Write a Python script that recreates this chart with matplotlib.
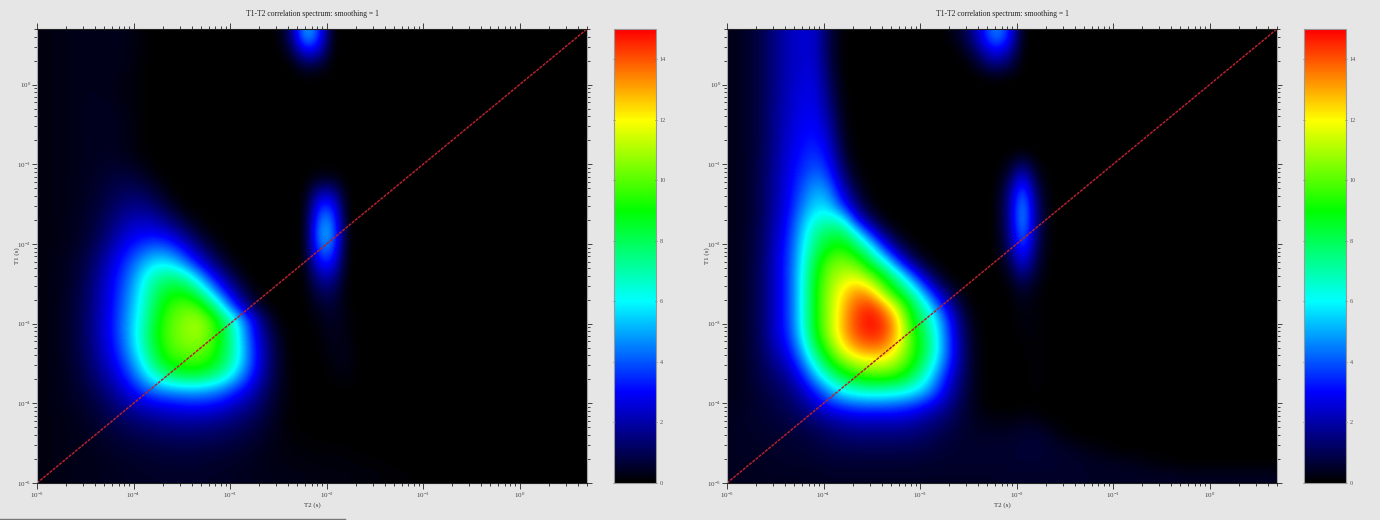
import numpy as np
import matplotlib
matplotlib.use("Agg")
import matplotlib.pyplot as plt
from matplotlib.colors import LinearSegmentedColormap, Normalize
from matplotlib.cm import ScalarMappable
from matplotlib.lines import Line2D
from matplotlib.ticker import LogLocator, LogFormatterMathtext, NullFormatter

plt.rcParams['font.family'] = ['Liberation Serif', 'DejaVu Serif']
plt.rcParams['mathtext.fontset'] = 'stix'

TITLE = "T1-T2 correlation spectrum: smoothing = 1"
X_LABEL = "T2 (s)"
Y_LABEL = "T1 (s)"
T_MIN = 1e-5
T_MAX = 5.0
V_MAX = 15
CBAR_TICKS = [0, 2, 4, 6, 8, 10, 12, 14]
CMAP_COLORS = ["#000000", "#0000ff", "#00ffff", "#00ff00", "#ffff00", "#ff0000"]
N_COLS = 40

# Spectrum amplitudes, top row first; rows are cut after their last non-zero cell.
LEFT_ROWS = [
 [.2,.25,.3,.35,.35,.35,.3,.15,0,0,0,0,0,0,0,0,0,0,1.3,5.4,3.8],
 [.2,.25,.3,.35,.35,.35,.3,.15,0,0,0,0,0,0,0,0,0,0,.6,3.2,2.5],
 [.2,.25,.3,.35,.35,.35,.3,.1,0,0,0,0,0,0,0,0,0,0,0,.9,.7],
 [.2,.25,.3,.35,.35,.3,.2,.1],
 [.2,.25,.3,.35,.35,.3,.2,.1],
 [.2,.25,.3,.35,.4,.35,.25,.1],
 [.2,.25,.3,.35,.4,.4,.3,.1],
 [.2,.25,.3,.35,.4,.4,.3,.1],
 [.2,.25,.3,.35,.4,.4,.3,.1],
 [.2,.25,.3,.35,.45,.5,.45,.25,.05],
 [.2,.25,.3,.4,.5,.7,.8,.6,.25,0,0,0,0,0,0,0,0,0,0,0,.3,.3],
 [.2,.25,.3,.4,.6,.9,1.1,1.1,.7,.2,0,0,0,0,0,0,0,0,0,0,2.0,2.0],
 [.2,.25,.3,.45,.7,1.1,1.5,1.6,1.3,.7,.1,0,0,0,0,0,0,0,0,0,3.6,3.6],
 [.2,.25,.35,.5,.85,1.4,2.0,2.3,2.1,1.5,.8,.2,0,0,0,0,0,0,0,0,4.5,4.6],
 [.2,.25,.35,.55,1.0,1.7,2.5,2.9,3.0,2.7,1.8,.9,.2,0,0,0,0,0,0,0,5.0,5.0],
 [.2,.25,.4,.7,1.3,2.2,3.1,3.8,4.4,4.2,3.3,2.0,.9,.2,0,0,0,0,0,0,4.3,4.3],
 [.2,.3,.45,.85,1.6,2.6,3.6,4.8,5.7,5.8,4.9,3.4,2.0,.8,.1,0,0,0,0,0,3.2,3.3],
 [.2,.3,.5,.95,1.8,2.9,4.0,5.5,7.0,7.6,7.3,5.8,3.7,2.0,.7,0,0,0,0,0,1.9,2.0],
 [.2,.3,.55,1.05,2.0,3.0,4.3,5.9,7.6,8.6,8.9,8.0,5.9,3.5,1.8,.4,0,0,0,0,1.0,1.2],
 [.2,.3,.6,1.1,2.0,3.1,4.5,6.1,8.0,9.4,10,9.9,8.4,5.9,3.1,1.2,.2,0,0,0,.5,.7,.1],
 [.2,.3,.6,1.15,2.1,3.2,4.7,6.3,8.3,9.8,10.4,10.9,10.2,8.2,6.1,3.5,1.3,.1,0,0,.2,.5,.2],
 [.2,.3,.6,1.15,2.1,3.2,4.7,6.5,8.6,9.9,10.5,10.9,10.3,8.7,6.4,3.8,1.7,.4,0,0,.1,.4,.2],
 [.2,.3,.6,1.1,2.0,3.0,4.5,6.3,8.3,9.7,10.2,10.4,9.9,8.5,6.6,4.1,2.0,.6,0,0,.05,.3,.3],
 [.2,.3,.55,1.0,1.8,2.7,4.0,5.7,7.7,9.1,9.5,9.7,9.3,8.1,6.4,4.1,2.0,.6,0,0,0,.2,.3],
 [.2,.3,.5,.85,1.5,2.3,3.3,4.8,6.3,7.5,8.1,8.2,7.7,6.8,5.2,3.5,1.8,.6,.05,0,0,.1,.2],
 [.2,.3,.45,.7,1.15,1.8,2.6,3.5,4.3,4.7,4.9,5.0,4.8,4.3,3.4,2.5,1.3,.5,.05,0,0,0,.05],
 [.2,.3,.4,.55,.85,1.3,1.8,2.3,2.7,2.9,3.1,3.2,3.1,2.8,2.2,1.7,1.0,.4,.05],
 [.2,.25,.3,.45,.65,.95,1.2,1.5,1.7,1.9,2.0,2.0,1.9,1.7,1.4,1.1,.7,.3,.05],
 [.2,.25,.3,.35,.5,.65,.85,1.0,1.1,1.2,1.3,1.3,1.2,1.1,.95,.75,.5,.25,.1,.05],
 [.2,.25,.3,.35,.4,.5,.6,.7,.75,.85,.85,.85,.8,.75,.65,.5,.35,.25,.15,.1,.1,.1,.05],
 [.2,.25,.3,.3,.35,.4,.45,.5,.55,.6,.6,.6,.55,.5,.45,.4,.3,.25,.2,.2,.15,.15,.15,.1,.1,.05],
 [.2,.25,.3,.3,.35,.4,.4,.45,.45,.5,.5,.5,.45,.45,.4,.35,.3,.3,.25,.25,.2,.2,.2,.15,.15,.1,.1,.05],
]

RIGHT_ROWS = [
 [.3,.5,.9,1.6,2.2,2.5,2.4,.7,0,0,0,0,0,0,0,0,.3,1.0,2.8,4.8,3.5],
 [.3,.5,.9,1.6,2.2,2.5,2.4,.7,0,0,0,0,0,0,0,0,0,.5,1.8,3.2,2.2],
 [.3,.5,.9,1.6,2.2,2.5,2.5,.8,0,0,0,0,0,0,0,0,0,0,.7,1.6,1.0],
 [.3,.5,.9,1.6,2.2,2.6,2.6,1.0,0,0,0,0,0,0,0,0,0,0,0,.1],
 [.3,.5,.9,1.6,2.3,2.7,2.7,1.2,.05],
 [.3,.5,.9,1.7,2.3,2.8,2.8,1.5,.1],
 [.3,.5,.9,1.7,2.4,2.9,3.0,1.8,.2],
 [.3,.5,.9,1.7,2.5,3.0,3.2,2.2,.3],
 [.3,.5,.9,1.8,2.6,3.2,3.5,2.6,.5],
 [.3,.5,1,1.8,2.7,3.4,3.9,3.1,.9,.05,0,0,0,0,0,0,0,0,0,0,.2,1.3,.1],
 [.3,.5,1,1.9,2.8,3.7,4.5,3.7,1.5,.2,0,0,0,0,0,0,0,0,0,0,.7,3.2,.5],
 [.3,.5,1,1.9,2.9,4.1,5.2,4.6,2.4,.7,0,0,0,0,0,0,0,0,0,0,1.3,4.7,1.0],
 [.3,.5,1,2,3.0,4.5,5.7,5.4,3.5,1.4,.2,0,0,0,0,0,0,0,0,0,1.5,5.4,1.3],
 [.3,.5,1,2.1,3.2,5.1,6.5,6.9,6.3,3.0,1.2,.1,0,0,0,0,0,0,0,0,1.5,5.5,1.4],
 [.3,.55,1.1,2.2,3.4,5.5,7.4,8.2,8.2,6.3,3.6,1.4,.2,0,0,0,0,0,0,0,1.3,5.0,1.2],
 [.3,.55,1.1,2.3,3.6,5.8,7.9,9.1,9.4,8.2,6.4,3.6,1.5,.3,0,0,0,0,0,0,1.0,4.1,1.0],
 [.3,.55,1.2,2.4,3.7,6.0,8.6,10.2,10.5,10.0,8.2,6.6,3.8,1.6,.4,0,0,0,0,0,.6,2.9,.7],
 [.3,.55,1.2,2.4,3.7,6.2,9.0,10.6,11.4,11.6,10.4,8.8,7.0,4.4,2.0,.5,0,0,0,0,.2,1.5,.4],
 [.3,.55,1.2,2.4,3.7,6.2,9.2,10.9,12.3,13.3,12.6,10.3,8.5,6.9,4.3,2.0,.5,0,0,0,0,.6,.15],
 [.3,.55,1.2,2.4,3.7,6.2,9.2,11,12.8,14,14.5,13,10.7,8.4,6.4,3.8,1.5,.2,0,0,0,.3,.1],
 [.3,.55,1.2,2.4,3.7,6.2,9.2,11,13,14.4,14.9,14.3,12.2,8.9,7.3,5.1,2.5,.5,0,0,0,.2,.15],
 [.3,.55,1.2,2.4,3.5,6.0,9,11,12.9,14.2,14.7,14.2,12.4,9.6,7.8,5.4,2.8,.7,.05,0,0,.1,.15],
 [.3,.55,1.1,2.1,3.1,5.3,8.2,10.1,12.1,13.2,13.6,13.4,11.7,9.6,8.1,5.5,3.0,.8,.05,0,0,.05,.15],
 [.3,.5,1,1.7,2.5,4.3,6.8,9,10.3,11.3,11.6,11.5,10.6,9.3,7.4,5.1,2.8,.8,.05,0,0,0,.15],
 [.3,.5,.9,1.3,1.9,3.2,5.2,7.1,8.4,9.2,9.6,9.6,9.2,7.9,6.3,4.2,2.2,.8,.05,0,0,0,.15],
 [.3,.45,.75,1,1.4,2.3,3.5,5,6.2,6.7,6.9,6.8,6.6,6.1,5.1,3.4,1.8,.7,.05,0,0,0,.1],
 [.35,.45,.6,.85,1.1,1.6,2.4,3.3,3.8,4.1,4.2,4.2,4,3.7,3,2.3,1.3,.6,.1],
 [.4,.5,.6,.7,.85,1.1,1.5,1.9,2.2,2.4,2.4,2.4,2.4,2.2,1.8,1.4,.95,.55,.3,.2,.2,.3,.25,.05],
 [.4,.45,.5,.55,.65,.75,.9,1.2,1.4,1.5,1.5,1.5,1.5,1.4,1.2,.95,.7,.5,.45,.45,.45,.55,.6,.4,.15],
 [.4,.45,.45,.5,.55,.6,.75,.85,.95,1,1,1,1,.95,.85,.7,.6,.55,.55,.55,.55,.65,.65,.55,.45,.35,.2,.1],
 [.4,.4,.4,.45,.5,.5,.55,.65,.65,.65,.65,.65,.65,.65,.6,.55,.55,.55,.55,.55,.55,.6,.6,.55,.55,.5,.45,.4,.35,.3,.2,.1,.05],
 [.4,.4,.4,.4,.4,.4,.4,.45,.45,.45,.45,.45,.45,.45,.45,.45,.45,.45,.45,.45,.5,.5,.5,.5,.5,.5,.45,.45,.45,.45,.45,.45,.45,.4,.4,.4,.4,.4,.4,.4],
]

BG = "#e6e6e6"
W, H = 1380, 520
cmap = LinearSegmentedColormap.from_list("spectrum", CMAP_COLORS, N=256)
norm = Normalize(0, V_MAX)


def to_grid(rows):
    grid = np.zeros((len(rows), N_COLS))
    for r, row in enumerate(rows):
        grid[r, :len(row)] = row
    return grid


def px_axes(x0, y0, x1, y1):
    return fig.add_axes([x0 / W, 1 - y1 / H, (x1 - x0) / W, (y1 - y0) / H])


def panel(rows, x0, y0, x1, y1, cx0, cx1):
    ax = px_axes(x0, y0, x1, y1)
    ax.set_xscale('log')
    ax.set_yscale('log')
    ax.imshow(to_grid(rows), cmap=cmap, norm=norm, extent=(0, 1, 0, 1), aspect='auto',
              transform=ax.transAxes, interpolation='bicubic', origin='upper')
    ax.plot([T_MIN, T_MAX], [T_MIN, T_MAX], color="#b3222c", lw=1.1, ls=(0, (2.0, 0.7)))
    ax.set_xlim(T_MIN, T_MAX)
    ax.set_ylim(T_MIN, T_MAX)
    for axis in (ax.xaxis, ax.yaxis):
        axis.set_major_locator(LogLocator(10, numticks=12))
        axis.set_minor_locator(LogLocator(10, subs=np.arange(2, 10), numticks=12))
        axis.set_major_formatter(LogFormatterMathtext())
        axis.set_minor_formatter(NullFormatter())
    ax.tick_params(axis='x', which='major', length=4.3, width=0.6, labelsize=5, pad=1.5, color="#222222",
                   labelcolor="#444444", top=True, direction='out')
    ax.tick_params(axis='x', which='minor', length=2.2, width=0.6, color="#222222", top=True, direction='out')
    ax.tick_params(axis='y', which='major', length=3.4, width=0.6, labelsize=5, pad=0.8, color="#222222",
                   labelcolor="#444444", right=True, direction='out')
    ax.tick_params(axis='y', which='minor', length=1.9, width=0.6, color="#222222", right=True, direction='out')
    for side, spine in ax.spines.items():
        spine.set_linewidth(0.8)
        spine.set_color("#222222" if side in ('top', 'bottom') else "#aaaaaa")
    ax.set_title(TITLE, fontsize=5.5, pad=9.5, color="#222222")
    ax.set_xlabel(X_LABEL, fontsize=5, labelpad=1.5, color="#333333")
    ax.set_ylabel(Y_LABEL, fontsize=5, labelpad=-2, color="#333333")

    cax = px_axes(cx0, y0, cx1, y1)
    cbar = fig.colorbar(ScalarMappable(norm=norm, cmap=cmap), cax=cax, ticks=CBAR_TICKS)
    cbar.ax.tick_params(length=1.5, width=0.5, labelsize=4.5, pad=2, color="#555555", labelcolor="#555555",
                        left=True, right=True, direction='inout')
    cbar.outline.set_edgecolor("#999999")
    cbar.outline.set_linewidth(0.8)
    return ax


fig = plt.figure(figsize=(W / 100, H / 100), dpi=100, facecolor=BG)
panel(LEFT_ROWS, 37, 29, 587, 483, 614, 656)
panel(RIGHT_ROWS, 727, 29, 1277, 483, 1304, 1346)
fig.add_artist(Line2D([0, 345 / W], [1 - 518.5 / H] * 2, color="#777777", lw=1.0))
fig.savefig("out.png", dpi=100, facecolor=BG)
